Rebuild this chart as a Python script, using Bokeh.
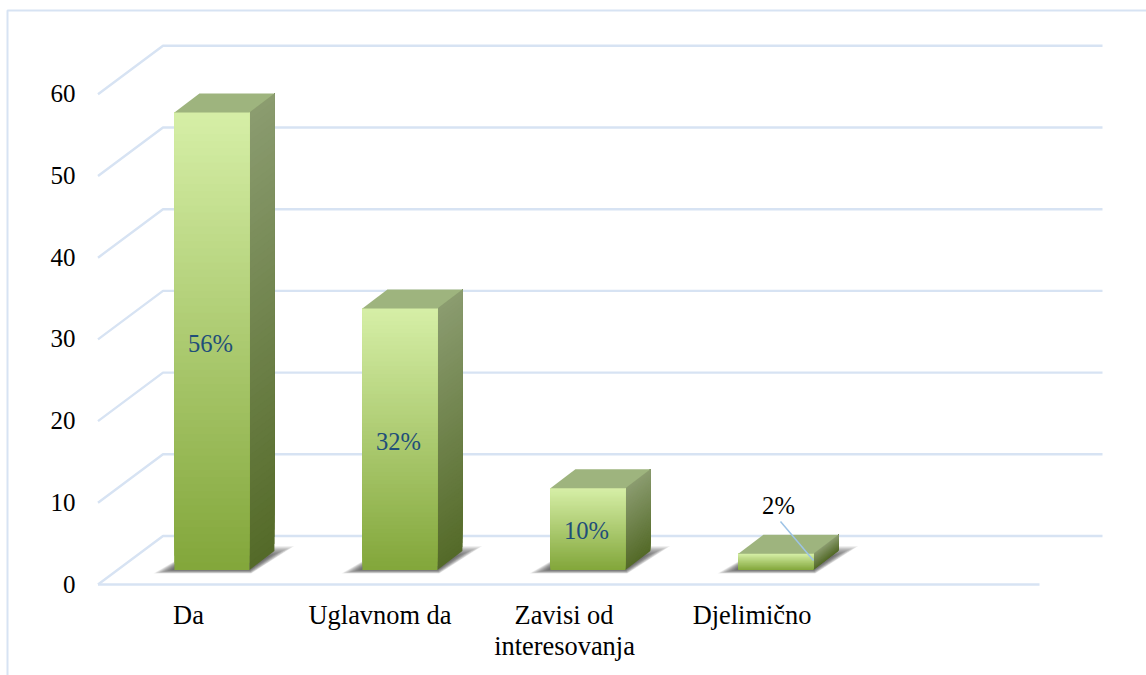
from bokeh.plotting import figure
from bokeh.models import Range1d
from bokeh.core.properties import value
from bokeh.embed import file_html
from bokeh.resources import INLINE

categories = ["Da", "Uglavnom da", "Zavisi od", "Djelimično"]
category_line2 = "interesovanja"
values = [56, 32, 10, 2]
data_labels = ["56%", "32%", "10%", "2%"]
y_ticks = [0, 10, 20, 30, 40, 50, 60]

W, H = 1146, 675
PX_Y = 8.17      # pixels per unit of value
PX_X = 188.0     # pixels per category
X0, Y0 = 211.4, 569.5  # window pixel of category 0 centre and value 0 on the bar plane

p = figure(width=W, height=H, output_backend="svg", toolbar_location=None,
           x_range=Range1d(-X0 / PX_X, (W - X0) / PX_X),
           y_range=Range1d((Y0 - H) / PX_Y, Y0 / PX_Y),
           min_border=0, margin=(0, 0, 0, 0), outline_line_color=None,
           background_fill_color="white", border_fill_color="white")
p.xaxis.visible = False
p.yaxis.visible = False
p.grid.visible = False


def dx(px):
    return px / PX_X


def dy(px):
    return px / PX_Y


def px_x(px):
    return (px - X0) / PX_X


def px_y(py):
    return (Y0 - py) / PX_Y


def mix(a, b, t):
    c = [round(a[i] + (b[i] - a[i]) * t) for i in range(3)]
    return "#%02x%02x%02x" % tuple(c)


GRID = "#d7e3f3"
FONT = value("Liberation Serif")

# outer frame
fx0, fy0 = px_x(7), px_y(10)
p.line([fx0, fx0, px_x(W)], [px_y(H), fy0, fy0], line_color=GRID, line_width=2)

# floor / walls grid: front edge to back edge, then along the back wall
front_x = px_x(97.5)
back_x = px_x(162.5)
right_x = px_x(1102)
front_off = px_y(584)
back_off = px_y(535.5)
for t in y_ticks:
    p.line([front_x, back_x, right_x], [t + front_off, t + back_off, t + back_off],
           line_color=GRID, line_width=2.4)
p.line([front_x, px_x(1039)], [front_off, front_off], line_color=GRID, line_width=2.4)

half = dx(37.5)
ddx, ddy = dx(25), dy(19)

# soft shadows on the floor
LAYERS = 22
for i, v in enumerate(values):
    L, R = i - half, i + half
    for k in range(LAYERS):
        grow = 1 - k / (LAYERS - 1)
        xs = [L - dx(2 + 19 * grow), R + dx(2 * grow), R + dx(20 + 25 * grow), L + dx(14 + 12 * grow)]
        ys = [dy(0 - 3.5 * grow), dy(0 - 3.5 * grow), dy(14 + 10 * grow), dy(14 + 10 * grow)]
        p.patch(xs, ys, fill_color="#3c3c3c", fill_alpha=0.05, line_color=None)

# bars: overlapping strips for the vertical gradients
STRIPS = 64
FRONT_TOP, FRONT_BOT = (214, 239, 167), (130, 166, 58)
SIDE_TOP, SIDE_BOT = (139, 156, 112), (84, 106, 40)
TOP_FACE = "#9eb47e"
for i, v in enumerate(values):
    L, R = i - half, i + half
    for s in range(STRIPS):
        a = v * s / STRIPS
        col = mix(SIDE_BOT, SIDE_TOP, (s + 0.5) / STRIPS)
        p.patch([R, R + ddx, R + ddx, R], [a, a + ddy, v + ddy, v], fill_color=col, line_color=None)
    for s in range(STRIPS):
        a = v * s / STRIPS
        col = mix(FRONT_BOT, FRONT_TOP, (s + 0.5) / STRIPS)
        p.patch([L, R, R, L], [a, a, v, v], fill_color=col, line_color=None)
    p.patch([L, R, R + ddx, L + ddx], [v, v, v + ddy, v + ddy],
            fill_color=TOP_FACE, line_color=None)

# y tick labels
p.text([px_x(75)] * len(y_ticks), [t + px_y(583.5) for t in y_ticks],
       text=[str(t) for t in y_ticks], text_font=FONT, text_font_size="25px",
       text_align="right", text_baseline="middle", text_color="#000000")

# category labels
cat_x = [188, 379.5, 563.5, 751.5]
p.text([px_x(c) for c in cat_x], [px_y(614)] * 4, text=categories, text_font=FONT,
       text_font_size="26.4px", text_align="center", text_baseline="middle",
       text_color="#000000")
p.text([px_x(564)], [px_y(645)], text=[category_line2], text_font=FONT,
       text_font_size="26.4px", text_align="center", text_baseline="middle",
       text_color="#000000")

# data labels
LABEL = "#1f4e79"
p.text([px_x(210), px_x(398), px_x(586)], [px_y(342.5), px_y(440.5), px_y(529.5)],
       text=data_labels[:3], text_font=FONT, text_font_size="24.6px",
       text_align="center", text_baseline="middle", text_color=LABEL)
p.text([px_x(778)], [px_y(504.5)], text=[data_labels[3]], text_font=FONT,
       text_font_size="24.6px", text_align="center", text_baseline="middle", text_color="#000000")
p.line([px_x(780), px_x(813)], [px_y(521), px_y(560)], line_color="#9dc3e6", line_width=1.5)

open("out.html", "w").write(file_html(p, INLINE))
